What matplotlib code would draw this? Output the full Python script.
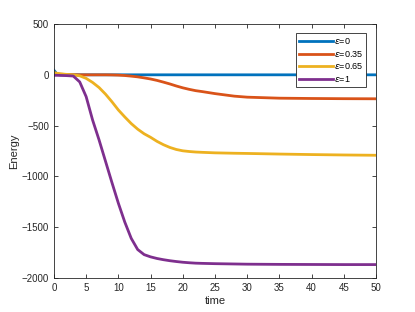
import numpy as np
import matplotlib
matplotlib.use('Agg')
import matplotlib.pyplot as plt

plt.rcParams['font.family'] = ['Liberation Sans', 'DejaVu Sans']

t = [0, 0.5, 1, 2, 3, 4, 5, 6, 7, 8, 9, 10, 11, 12, 13, 14, 15, 16, 17, 18, 19, 20,
     21, 22, 23, 25, 28, 30, 35, 40, 45, 50]
e0 = [45, 5, 0, 0, 0, 0, 0, 0, 0, 0, 0, 0, 0, 0, 0, 0, 0, 0, 0, 0, 0, 0,
      0, 0, 0, 0, 0, 0, 0, 0, 0, 0]
e035 = [20, 10, 6, 3, 1, 0, 0, 0, 0, 0, -1, -3, -7, -13, -20, -30, -41, -55, -72, -90, -110, -128,
        -143, -156, -165, -185, -210, -220, -230, -233, -235, -236]
e065 = [22, 15, 10, 4, 0, -10, -35, -75, -125, -190, -265, -346, -415, -480, -535, -580, -615, -655, -688, -715, -735, -748,
        -755, -760, -763, -768, -772, -774, -780, -785, -789, -792]
e1 = [-5, -5, -6, -8, -12, -70, -215, -445, -640, -850, -1060, -1264, -1450, -1610, -1720, -1770, -1792, -1808, -1820, -1830, -1838, -1845,
      -1850, -1854, -1856, -1859, -1862, -1864, -1866, -1867, -1868, -1868]

series = [(e0, r'$\epsilon$=0', '#0072BD'),
          (e035, r'$\epsilon$=0.35', '#D95319'),
          (e065, r'$\epsilon$=0.65', '#EDB120'),
          (e1, r'$\epsilon$=1', '#7E2F8E')]

fig = plt.figure(figsize=(4.15, 3.12), dpi=100)
ax = fig.add_axes([0.130, 0.109, 0.776, 0.814])

for vals, lab, col in series:
    ax.plot(t, vals, color=col, lw=2, label=lab)

ax.set_xlim(0, 50)
ax.set_ylim(-2000, 500)
ax.set_xticks(np.arange(0, 51, 5))
ax.set_yticks(np.arange(-2000, 501, 500))
ax.tick_params(direction='in', top=True, right=True, labelsize=7, length=3,
               color='#262626', labelcolor='#262626', width=0.6)
for s in ax.spines.values():
    s.set_color('#262626')
    s.set_linewidth(0.6)
ax.set_xlabel('time', fontsize=8, color='#262626', labelpad=2)
ax.set_ylabel('Energy', fontsize=8, color='#262626', labelpad=2)

leg = ax.legend(loc='upper right', bbox_to_anchor=(0.97, 0.965), fontsize=6.5,
                fancybox=False, edgecolor='#262626', framealpha=1,
                handlelength=3.8, handletextpad=0.1, labelspacing=0.3,
                borderpad=0.35, borderaxespad=0)
leg.get_frame().set_linewidth(0.6)

fig.savefig('out.png', dpi=100)
